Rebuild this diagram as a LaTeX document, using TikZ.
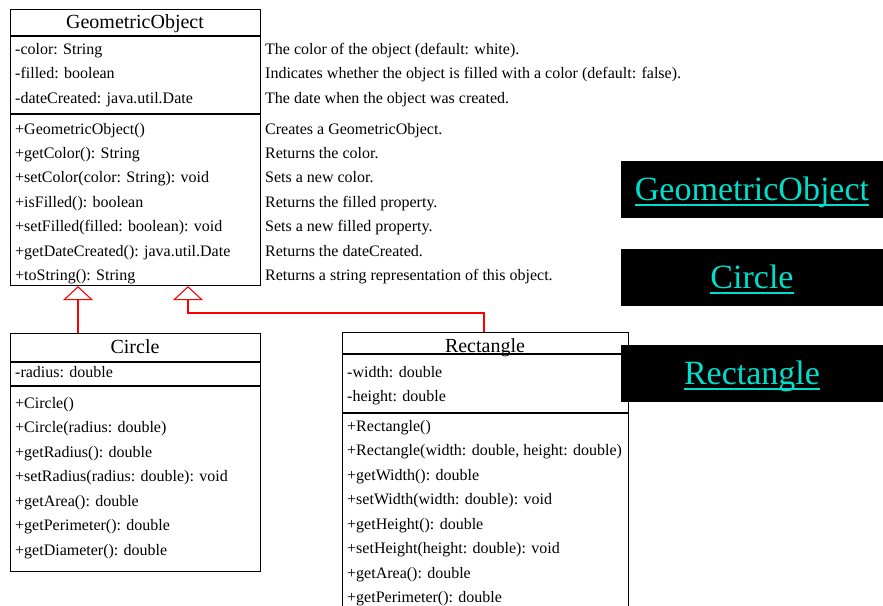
\documentclass[tikz,border=0pt]{standalone}
\usepackage{fontspec}
\setmainfont{Liberation Serif}
\usepackage{tikz}
\usetikzlibrary{arrows.meta}
\definecolor{linkcyan}{RGB}{0,222,204}

\begin{document}
\begin{tikzpicture}[x=1pt, y=-1pt,
       txt/.style={anchor=base west, inner sep=0pt, font=\fontsize{16}{18}\selectfont},
       ttl/.style={anchor=base, inner sep=0pt, font=\fontsize{20}{22}\selectfont},
       box/.style={draw, line width=1.1pt, anchor=north west, inner sep=0pt},
       sep/.style={line width=1.1pt},
       inherit/.style={red, line width=1.1pt, -{Triangle[open, length=14pt, width=30pt]}},
       blk/.style={fill=black, anchor=north west, inner sep=0pt, minimum width=262pt, minimum height=57pt},
       link/.style={anchor=base, inner sep=0pt, text=linkcyan, font=\fontsize{34}{36}\selectfont},
       uline/.style={linkcyan, line width=2pt}]
       \useasboundingbox (0,0) rectangle (883,605);
       \clip (0,0) rectangle (883,605);
       \node (geo) [box, minimum width=250pt, minimum height=276pt] at (10,9) {};
       \draw [sep] (10,36) -- (260,36);
       \draw [sep] (10,114) -- (260,114);
       \node (geottl) [ttl] at (135,28) {GeometricObject};
       \node (g1) [txt] at (15,54) {-color: String};
       \node (g2) [txt] at (15,78.5) {-filled: boolean};
       \node (g3) [txt] at (15,103) {-dateCreated: java.util.Date};
       \node (g4) [txt] at (15,134) {+GeometricObject()};
       \node (g5) [txt] at (15,158.4) {+getColor(): String};
       \node (g6) [txt] at (15,182.8) {+setColor(color: String): void};
       \node (g7) [txt] at (15,207.2) {+isFilled(): boolean};
       \node (g8) [txt] at (15,231.6) {+setFilled(filled: boolean): void};
       \node (g9) [txt] at (15,256) {+getDateCreated(): java.util.Date};
       \node (g10) [txt] at (15,280.4) {+toString(): String};
       \node (d1) [txt] at (265,54) {The color of the object (default: white).};
       \node (d2) [txt] at (265,78.5) {Indicates whether the object is filled with a color (default: false).};
       \node (d3) [txt] at (265,103) {The date when the object was created.};
       \node (d4) [txt] at (265,134) {Creates a GeometricObject.};
       \node (d5) [txt] at (265,158.4) {Returns the color.};
       \node (d6) [txt] at (265,182.8) {Sets a new color.};
       \node (d7) [txt] at (265,207.2) {Returns the filled property.};
       \node (d8) [txt] at (265,231.6) {Sets a new filled property.};
       \node (d9) [txt] at (265,256) {Returns the dateCreated.};
       \node (d10) [txt] at (265,280.4) {Returns a string representation of this object.};
       \node (circ) [box, minimum width=250pt, minimum height=238pt] at (10,333) {};
       \draw [sep] (10,362) -- (260,362);
       \draw [sep] (10,386) -- (260,386);
       \node (circttl) [ttl] at (135,353) {Circle};
       \node (c1) [txt] at (15,377.5) {-radius: double};
       \node (c2) [txt] at (15,408) {+Circle()};
       \node (c3) [txt] at (15,432.5) {+Circle(radius: double)};
       \node (c4) [txt] at (15,457) {+getRadius(): double};
       \node (c5) [txt] at (15,481.5) {+setRadius(radius: double): void};
       \node (c6) [txt] at (15,506) {+getArea(): double};
       \node (c7) [txt] at (15,530.5) {+getPerimeter(): double};
       \node (c8) [txt] at (15,555) {+getDiameter(): double};
       \node (rect) [box, minimum width=286pt, minimum height=300pt] at (342,332) {};
       \draw [sep] (342,354) -- (628,354);
       \draw [sep] (342,413) -- (628,413);
       \node (rectttl) [ttl] at (485,352) {Rectangle};
       \node (r1) [txt] at (347,377) {-width: double};
       \node (r2) [txt] at (347,401) {-height: double};
       \node (r3) [txt] at (347,431) {+Rectangle()};
       \node (r4) [txt] at (347,455.5) {+Rectangle(width: double, height: double)};
       \node (r5) [txt] at (347,480) {+getWidth(): double};
       \node (r6) [txt] at (347,504.5) {+setWidth(width: double): void};
       \node (r7) [txt] at (347,529) {+getHeight(): double};
       \node (r8) [txt] at (347,553.5) {+setHeight(height: double): void};
       \node (r9) [txt] at (347,578) {+getArea(): double};
       \node (r10) [txt] at (347,602.5) {+getPerimeter(): double};
       \coordinate (bend) at (188,313);
       \draw [inherit] (circ.north -| 78,0) -- (geo.south -| 78,0);
       \draw [inherit] (rect.north -| 484,0) |- (bend) -- (geo.south -| bend);
       \node (bg1) [blk] at (621,161) {};
       \node (bg2) [blk] at (621,249) {};
       \node (bg3) [blk] at (621,345) {};
       \node (lnk1) [link] at (752,200) {GeometricObject};
       \node (lnk2) [link] at (752,288) {Circle};
       \node (lnk3) [link] at (752,384) {Rectangle};
       \draw [uline] ([yshift=-5pt]lnk1.base west) -- ([yshift=-5pt]lnk1.base east);
       \draw [uline] ([yshift=-5pt]lnk2.base west) -- ([yshift=-5pt]lnk2.base east);
       \draw [uline] ([yshift=-5pt]lnk3.base west) -- ([yshift=-5pt]lnk3.base east);
   \end{tikzpicture}
\end{document}
